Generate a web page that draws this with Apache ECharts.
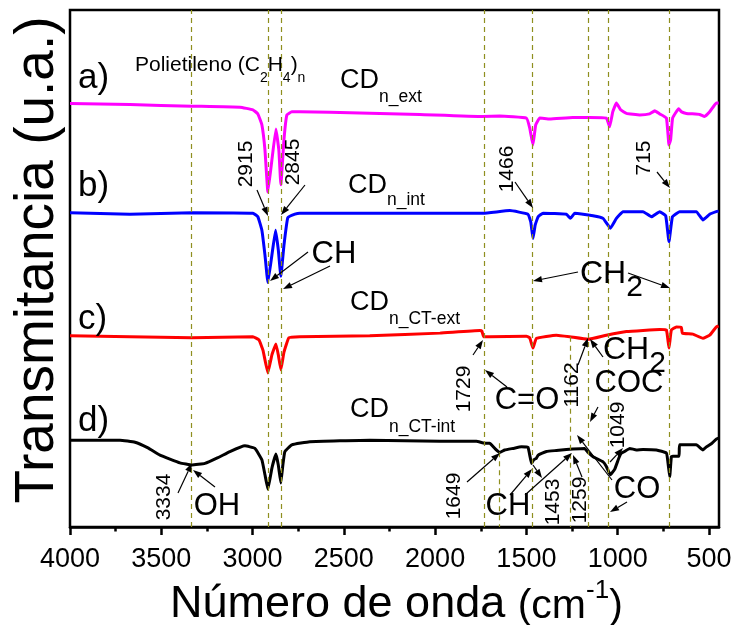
<!DOCTYPE html>
<html>
<head>
<meta charset="utf-8">
<script src="https://cdn.jsdelivr.net/npm/echarts@6/dist/echarts.min.js"></script>
<style>html,body{margin:0;padding:0;background:#fff;}#c{width:734px;height:625px;}</style>
</head>
<body>
<div id="c"></div>
<script>
// ---- data (wavenumber cm-1, transmittance a.u.) ----
const wnTicks = [4000, 3500, 3000, 2500, 2000, 1500, 1000, 500];
const wnMinor = [3750, 3250, 2750, 2250, 1750, 1250, 750];
const bandLines = [3334, 2915, 2845, 1729, 1466, 1162, 1049, 715];
const bandLinesLower = [[1649, 16.2], [1259, 36.8]];

const specA = [[4000,81.9],[3672,81.7],[3332,81.4],[3069,81.2],[2998,80.7],[2971,79.9],[2949,77.8],[2932,72.9],[2916,64.8],[2894,71.0],[2872,77.0],[2856,72.9],[2845,66.2],[2828,74.9],[2812,79.7],[2785,80.3],[2741,80.3],[2412,80.1],[2084,79.8],[1739,79.4],[1646,79.5],[1500,79.1],[1482,77.2],[1464,73.9],[1449,77.8],[1427,79.1],[1372,78.9],[1246,79.2],[1153,79.2],[1062,79.1],[1044,77.4],[1027,80.3],[1007,82.0],[984,80.7],[952,80.0],[879,79.7],[825,79.9],[797,80.5],[770,79.9],[733,79.1],[719,73.9],[710,74.9],[699,79.1],[666,80.9],[650,80.3],[624,80.0],[551,79.8],[524,79.4],[496,80.3],[460,82.0],[447,82.0]];

const specB = [[4000,60.8],[3672,60.5],[3332,60.8],[2998,60.7],[2971,60.0],[2949,57.4],[2932,52.6],[2916,47.3],[2894,52.6],[2874,57.4],[2859,53.6],[2845,48.5],[2828,54.5],[2807,59.8],[2768,60.5],[2741,60.7],[1974,60.7],[1737,60.7],[1591,61.2],[1491,60.5],[1476,59.0],[1464,55.8],[1452,58.4],[1436,60.0],[1409,60.7],[1281,60.5],[1259,59.7],[1235,60.7],[1135,60.2],[1080,59.7],[1040,57.8],[1007,59.7],[971,61.0],[861,61.0],[815,60.0],[770,61.0],[737,60.2],[719,55.2],[700,60.0],[661,61.0],[569,61.0],[533,59.4],[496,60.5],[460,61.0],[447,61.1]];

const specC = [[4000,37.0],[3672,36.8],[3332,36.6],[2998,36.8],[2965,36.2],[2943,34.2],[2916,29.8],[2894,33.3],[2872,35.4],[2859,33.3],[2845,30.4],[2828,33.8],[2801,36.6],[2741,36.8],[2358,37.0],[1974,37.5],[1755,38.0],[1744,37.9],[1734,36.8],[1701,36.8],[1500,36.9],[1482,36.6],[1464,34.6],[1445,36.5],[1336,37.1],[1263,36.8],[1162,36.3],[1062,37.1],[952,37.8],[770,38.2],[733,38.1],[719,34.6],[706,38.1],[679,38.7],[651,38.6],[646,37.5],[588,37.3],[533,36.5],[496,37.1],[460,38.7],[447,38.9]];

const specD = [[4000,16.8],[3726,16.8],[3644,16.4],[3573,15.3],[3507,13.9],[3398,12.4],[3332,12.0],[3261,12.3],[3190,13.4],[3124,14.6],[3042,15.7],[2987,15.2],[2949,13.0],[2932,10.1],[2916,7.3],[2894,11.4],[2872,14.1],[2859,12.0],[2845,8.5],[2834,12.0],[2823,14.6],[2785,15.9],[2686,16.5],[2358,16.8],[1974,16.6],[1774,16.6],[1728,16.2],[1701,16.2],[1673,15.2],[1646,14.4],[1619,14.9],[1573,15.2],[1527,15.5],[1491,15.4],[1472,12.3],[1460,13.0],[1445,13.3],[1436,13.9],[1390,14.6],[1336,14.8],[1281,15.0],[1245,15.1],[1181,15.2],[1162,14.4],[1135,13.6],[1080,12.6],[1062,11.7],[1040,10.1],[1016,11.2],[994,13.3],[980,14.3],[962,14.6],[934,15.2],[898,14.9],[861,15.0],[788,14.9],[733,14.3],[723,12.0],[715,9.7],[706,13.6],[697,13.7],[664,13.7],[661,15.9],[569,15.9],[533,14.9],[514,15.5],[487,16.1],[460,17.0],[447,17.2]];

// ---- layout / style ----
const FONT = '"Liberation Sans", Arial, Helvetica, sans-serif';
const chart = echarts.init(document.getElementById('c'), null, {renderer: 'canvas'});

const mctx = document.createElement('canvas').getContext('2d');
function tw(t, s) { mctx.font = s + 'px ' + FONT; return mctx.measureText(t).width; }

function txt(t, x, y, size, opts) {
  opts = opts || {};
  return {
    type: 'text', x: x, y: y, rotation: opts.rot || 0, z: 100,
    style: {
      text: t, fontSize: size, fontFamily: FONT, fill: '#000',
      textAlign: opts.align || 'left', align: opts.align || 'left',
      textVerticalAlign: 'middle', verticalAlign: 'middle'
    }
  };
}
function seq(x, y, parts) {
  const out = [];
  let cx = x;
  parts.forEach(p => {
    out.push(txt(p[0], cx, y + (p[2] || 0), p[1]));
    cx += tw(p[0], p[1]) + (p[3] || 0);
  });
  return out;
}
function arrow(x1, y1, x2, y2) {
  const a = Math.atan2(y2 - y1, x2 - x1), L = 9, W = 3.2;
  const c = Math.cos(a), s = Math.sin(a);
  const bx = x2 - L * c, by = y2 - L * s;
  return [
    {type: 'line', z: 100, shape: {x1: x1, y1: y1, x2: bx, y2: by}, style: {stroke: '#000', lineWidth: 1.2}},
    {type: 'polygon', z: 100, shape: {points: [[x2, y2], [bx + W * s, by - W * c], [bx - W * s, by + W * c]]}, style: {fill: '#000'}}
  ];
}

const rot = Math.PI / 2;
let g = [];
g.push(txt('a)', 78, 78, 35), txt('b)', 78, 186, 35), txt('c)', 78, 319, 35), txt('d)', 78, 421, 35));
g = g.concat(seq(135, 65, [['Polietileno (C', 21], ['2', 14, 13], ['H', 21], ['4', 14, 13], [')', 21], ['n', 14, 13]]));
g = g.concat(seq(340, 81, [['CD', 27], ['n_ext', 17.5, 16]]));
g = g.concat(seq(348, 186, [['CD', 27], ['n_int', 17.5, 14]]));
g = g.concat(seq(350, 303, [['CD', 27], ['n_CT-ext', 17.5, 16]]));
g = g.concat(seq(350, 410, [['CD', 27], ['n_CT-int', 17.5, 17]]));
[['2915', 246, 164], ['2845', 293, 162], ['1466', 507, 169], ['715', 644, 158], ['1729', 464, 389],
 ['1162', 572, 385], ['1049', 618, 425], ['3334', 164, 497], ['1649', 454, 496], ['1453', 553, 502], ['1259', 580, 500]]
  .forEach(d => g.push(txt(d[0], d[1], d[2], 21, {rot: rot, align: 'center'})));
[['CH', 334, 254], ['C=O', 527, 400], ['COC', 629, 383], ['CO', 637, 489], ['CH', 508, 506], ['OH', 217, 506]]
  .forEach(d => g.push(txt(d[0], d[1], d[2], 31, {align: 'center'})));
g = g.concat(seq(580, 274, [['CH', 32], ['2', 30, 14]]));
g = g.concat(seq(603, 350, [['CH', 32], ['2', 30, 14]]));
[[257,190,268,216],[305,185,281,215],[308,252,270,281],[330,266,283,289],[515,182,533,208],[657,172,670,188],
 [578,272,533,281],[628,273,670,288],[473,355,483,340],[507,387,485,370],[578,365,588,338],[603,357,590,339],
 [598,407,590,422],[610,462,623,448],[467,482,500,453],[510,495,532,469],[525,495,572,453],[533,465,542,478],
 [582,477,573,455],[612,480,577,435],[627,502,610,512],[178,493,192,463],[215,487,193,470]]
  .forEach(a => { g = g.concat(arrow(a[0], a[1], a[2], a[3])); });
g.push(txt('Transmitancia (u.a.)', 38, 260, 55, {rot: rot, align: 'center'}));
g = g.concat(seq(170, 605, [['Número de onda ', 45], ['(cm', 41, 2], ['-1', 26, -14], [')', 41, 2]]));

const bandData = bandLines.map(v => ({xAxis: v}));
bandLinesLower.forEach(b => bandData.push([{coord: [b[0], b[1]]}, {coord: [b[0], 0]}]));

const lineSeries = (d, color) => ({
  type: 'line', data: d, showSymbol: false, symbol: 'none', smooth: 0.1,
  lineStyle: {color: color, width: 3}, z: 3, animation: false
});

chart.setOption({
  animation: false,
  grid: {left: 70, right: 15, top: 10, bottom: 98, show: true, borderColor: '#000', borderWidth: 2.5,
         containLabel: false, outerBoundsMode: 'none'},
  xAxis: [{
    type: 'value', min: 445, max: 4000, inverse: true, position: 'bottom',
    axisLine: {show: true, lineStyle: {color: '#000', width: 2.5}},
    axisTick: {show: true, inside: false, length: 8, customValues: wnTicks, lineStyle: {color: '#000', width: 2.5}},
    axisLabel: {show: true, customValues: wnTicks, fontSize: 27, fontFamily: FONT, color: '#000', margin: 19,
                formatter: v => String(v)},
    splitLine: {show: false}
  }, {
    type: 'value', min: 445, max: 4000, inverse: true, position: 'bottom',
    axisLine: {show: false},
    axisTick: {show: true, inside: false, length: 4.5, customValues: wnMinor, lineStyle: {color: '#000', width: 2.5}},
    axisLabel: {show: false}, splitLine: {show: false}
  }],
  yAxis: {type: 'value', min: 0, max: 100, show: false},
  series: [
    {type: 'line', data: [], z: 1, silent: true,
     markLine: {silent: true, symbol: 'none', animation: false, label: {show: false},
       lineStyle: {type: [5, 4], color: '#8f8f1f', width: 1.2}, data: bandData}},
    lineSeries(specA, '#ff00ff'),
    lineSeries(specB, '#0000ff'),
    lineSeries(specC, '#ff0000'),
    lineSeries(specD, '#000000')
  ],
  graphic: g
});
</script>
</body>
</html>
